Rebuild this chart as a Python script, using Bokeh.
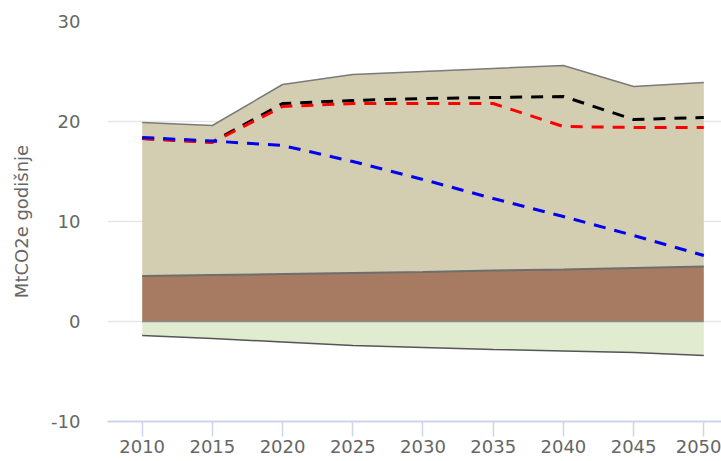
import numpy as np
from bokeh.plotting import figure
from bokeh.models import FixedTicker, Range1d
from bokeh.embed import file_html
from bokeh.resources import INLINE

# ---- data ----
years = [2010, 2015, 2020, 2025, 2030, 2035, 2040, 2045, 2050]
year_ticks = [2010, 2015, 2020, 2025, 2030, 2035, 2040, 2045, 2050]
y_ticks = [-10, 0, 10, 20, 30]
y_tick_labels = ["-10", "0", "10", "20", "30"]

# stacked positive areas (bottom first)
brown_series = [4.55, 4.65, 4.75, 4.85, 4.95, 5.1, 5.2, 5.35, 5.5]
tan_series = [15.35, 14.95, 18.95, 19.85, 20.05, 20.2, 20.4, 18.15, 18.4]
# negative area (sinks)
green_series = [-1.4, -1.7, -2.05, -2.4, -2.6, -2.8, -2.95, -3.1, -3.4]

# scenario lines
black_line = [18.3, 17.95, 21.8, 22.1, 22.3, 22.4, 22.5, 20.2, 20.4]
red_line = [18.3, 17.9, 21.5, 21.8, 21.8, 21.8, 19.5, 19.4, 19.4]
blue_line = [18.4, 18.05, 17.6, 16.0, 14.2, 12.3, 10.5, 8.6, 6.6]

x = np.array(years, dtype=float)
b = np.array(brown_series)
t = b + np.array(tan_series)
g = np.array(green_series)
zero = np.zeros_like(x)

p = figure(width=721, height=461, output_backend="svg", toolbar_location=None,
           x_range=Range1d(2007.53, 2051.26), y_range=Range1d(-10, 30),
           min_border_left=107, min_border_right=0, min_border_top=21,
           min_border_bottom=40)
p.outline_line_color = None
p.background_fill_color = "white"

# areas
p.varea(x=x, y1=b, y2=t, fill_color="#d3ceb2")
p.varea(x=x, y1=zero, y2=b, fill_color="#a67b61")
p.varea(x=x, y1=g, y2=zero, fill_color="#e1ebcf")

# outlines
p.line(x, t, line_color="#7a7a7a", line_width=1.5)
p.line(x, b, line_color="#6e6e6e", line_width=2)
p.line(x, zero, line_color="#8a8a8a", line_width=1.5)
p.line(x, g, line_color="#555555", line_width=1.5)

# scenario lines
p.line(x, black_line, line_color="#000000", line_width=3, line_dash="12 9")
p.line(x, red_line, line_color="#ff0000", line_width=3, line_dash="12 9")
p.line(x, blue_line, line_color="#0000ee", line_width=3, line_dash="12 9")

# grid
p.xgrid.grid_line_color = None
p.ygrid.grid_line_color = "#e6e6e6"
p.ygrid.grid_line_width = 1.5
p.ygrid.level = "underlay"

# x axis
p.xaxis.ticker = FixedTicker(ticks=year_ticks)
p.xaxis.axis_line_color = "#ccd6eb"
p.xaxis.axis_line_width = 2
p.xaxis.major_tick_line_color = "#ccd6eb"
p.xaxis.major_tick_line_width = 1.5
p.xaxis.major_tick_out = 15
p.xaxis.major_tick_in = 0
p.xaxis.minor_tick_line_color = None
p.xaxis.major_label_text_font = "DejaVu Sans"
p.xaxis.major_label_text_font_size = "18px"
p.xaxis.major_label_text_color = "#666666"
p.xaxis.major_label_standoff = 3

# y axis
p.yaxis.ticker = FixedTicker(ticks=y_ticks)
p.yaxis.major_label_overrides = {v: s for v, s in zip(y_ticks, y_tick_labels)}
p.yaxis.axis_line_color = None
p.yaxis.major_tick_line_color = None
p.yaxis.minor_tick_line_color = None
p.yaxis.major_tick_out = 0
p.yaxis.major_tick_in = 0
p.yaxis.major_label_standoff = 27
p.yaxis.major_label_text_font = "DejaVu Sans"
p.yaxis.major_label_text_font_size = "18px"
p.yaxis.major_label_text_color = "#666666"
p.yaxis.axis_label = "MtCO2e godišnje"
p.yaxis.axis_label_text_font = "DejaVu Sans"
p.yaxis.axis_label_text_font_size = "18px"
p.yaxis.axis_label_text_font_style = "normal"
p.yaxis.axis_label_text_color = "#666666"
p.yaxis.axis_label_standoff = 16

open("out.html", "w").write(file_html(p, INLINE))
